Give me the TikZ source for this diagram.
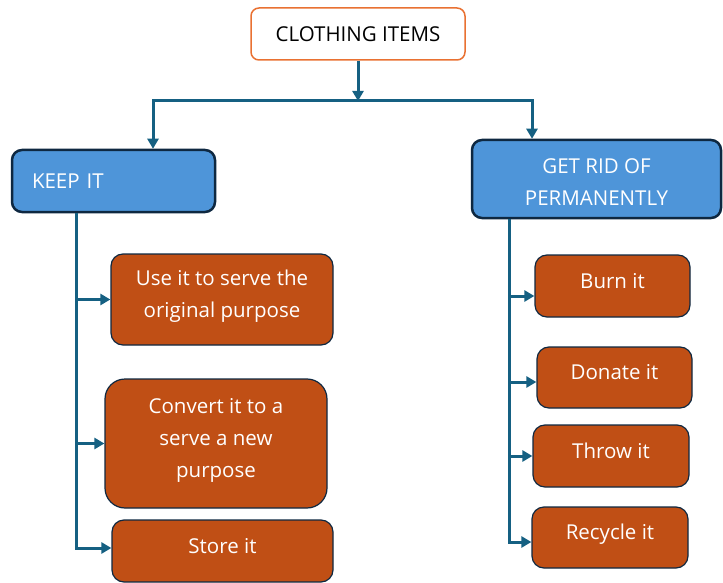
\documentclass[tikz,border=0pt]{standalone}
\usepackage{fontspec}
\setmainfont{Open Sans}
\usetikzlibrary{arrows.meta}
\definecolor{headblue}{HTML}{4E95D9}
\definecolor{edgenavy}{HTML}{0E2841}
\definecolor{linkblue}{HTML}{156082}
\definecolor{leaforange}{HTML}{C04F15}
\definecolor{titleorange}{HTML}{E97132}

\begin{document}
\begin{tikzpicture}[x=1pt,y=-1pt,>={Triangle[length=10pt,width=11pt]},
  title/.style={draw=titleorange,line width=1.5pt,fill=white,rounded corners=8pt,
    inner sep=0pt,font=\fontsize{20.5}{30}\selectfont},
  head/.style={draw=edgenavy,line width=2.5pt,fill=headblue,rounded corners=10pt,
    text=white,inner sep=0pt,font=\fontsize{20.5}{32}\selectfont},
  leaf/.style={draw=edgenavy,line width=1.2pt,fill=leaforange,rounded corners=12pt,
    text=white,align=center,inner sep=0pt,text depth=11pt,
    font=\fontsize{20.5}{32}\selectfont},
  conn/.style={draw=linkblue,line width=3pt}]
\useasboundingbox (0,0) rectangle (723,583);
% ---------- boxes ----------
% root
\node[title,minimum width=214pt,minimum height=52pt] (items) at (358,34) {CLOTHING ITEMS};
% two main choices
\node[head,align=left,text width=163pt,inner xsep=20pt,minimum height=62pt]
  (keep) at (113.5,181) {KEEP IT};
\node[head,align=center,text height=52pt,minimum width=249pt,minimum height=78pt]
  (getrid) at (596.5,179) {GET RID OF\\PERMANENTLY};
% keep it: three ways
\node[leaf,minimum width=222pt,minimum height=91pt] (use) at (222,299.5)
  {Use it to serve the\\original purpose};
\node[leaf,rounded corners=20pt,minimum width=222pt,minimum height=129pt] (convert) at (216,443.5)
  {Convert it to a\\serve a new\\purpose};
\node[leaf,minimum width=221pt,minimum height=62pt] (store) at (222.5,551) {Store it};
% get rid of it: four ways
\node[leaf,minimum width=155pt,minimum height=62pt] (burn) at (612.5,286) {Burn it};
\node[leaf,minimum width=155pt,minimum height=61pt] (donate) at (614.5,377.5) {Donate it};
\node[leaf,minimum width=156pt,minimum height=62pt] (throw) at (611,456) {Throw it};
\node[leaf,minimum width=156pt,minimum height=61pt] (recycle) at (610,537.5) {Recycle it};
% ---------- connectors ----------
\coordinate (split) at (items.south |- 0,101);
\draw[conn,->] (items.south) -- (split);
\draw[conn,->] (split) -| (keep.north -| 153,0);
\draw[conn,->] (split) -| (getrid.north -| 532,0);
% left trunk
\coordinate (keepfoot) at (keep.south -| 76,0);
\coordinate (storeIn) at ([yshift=3pt]store.west);
\draw[conn,->] (keepfoot) |- (storeIn);
\draw[conn,->] (keepfoot |- use.west) -- (use.west);
\draw[conn,->] (keepfoot |- convert.west) -- (convert.west);
% right trunk
\coordinate (ridfoot) at (getrid.south -| 509,0);
\coordinate (burnIn) at ([yshift=-10pt]burn.west);
\coordinate (donateIn) at ([yshift=-4.5pt]donate.west);
\coordinate (recycleIn) at ([yshift=-4.5pt]recycle.west);
\draw[conn,->] (ridfoot) |- (recycleIn);
\draw[conn,->] (ridfoot |- burnIn) -- (burnIn);
\draw[conn,->] (ridfoot |- donateIn) -- (donateIn);
\draw[conn,->] (ridfoot |- throw.west) -- (throw.west);
\end{tikzpicture}
\end{document}
